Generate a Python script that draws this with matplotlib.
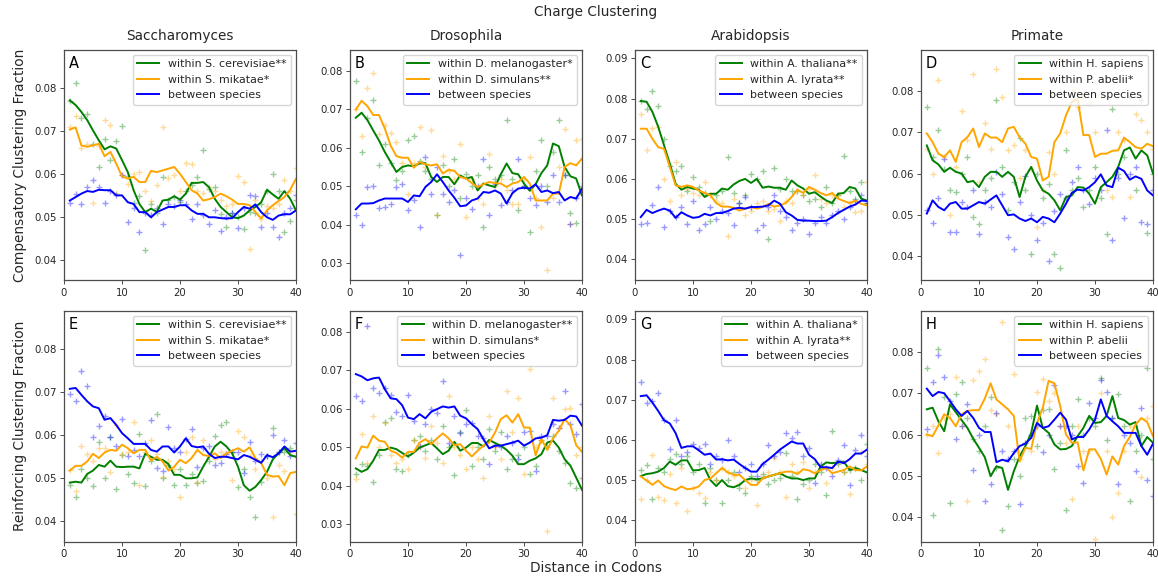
import matplotlib
matplotlib.use("Agg")
import matplotlib.pyplot as plt
import numpy as np

plt.rcParams['font.family'] = ['DejaVu Sans']

# ---------------- data ----------------
distance = list(range(1, 41))
xticks = [0, 10, 20, 30, 40]

col_titles = ["Saccharomyces", "Drosophila", "Arabidopsis", "Primate"]
row_ylabels = ["Compensatory Clustering Fraction", "Reinforcing Clustering Fraction"]
panel_letters = ["A", "B", "C", "D", "E", "F", "G", "H"]

A_labels = ["within S. cerevisiae**", "within S. mikatae*", "between species"]
B_labels = ["within D. melanogaster*", "within D. simulans**", "between species"]
C_labels = ["within A. thaliana**", "within A. lyrata**", "between species"]
D_labels = ["within H. sapiens", "within P. abelii*", "between species"]
E_labels = ["within S. cerevisiae**", "within S. mikatae*", "between species"]
F_labels = ["within D. melanogaster**", "within D. simulans*", "between species"]
G_labels = ["within A. thaliana*", "within A. lyrata**", "between species"]
H_labels = ["within H. sapiens", "within P. abelii", "between species"]

# Panel A
A_green_line = [0.0771,0.0760,0.0744,0.0725,0.0701,0.0678,0.0657,0.0664,0.0659,0.0632,0.0604,0.0562,0.0530,0.0511,0.0519,0.0512,0.0538,0.0540,0.0548,0.0540,0.0554,0.0579,0.0579,0.0581,0.0569,0.0542,0.0523,0.0511,0.0499,0.0497,0.0503,0.0515,0.0523,0.0534,0.0563,0.0552,0.0542,0.0560,0.0542,0.0515]
A_orange_line = [0.0703,0.0708,0.0666,0.0663,0.0666,0.0670,0.0641,0.0651,0.0624,0.0594,0.0589,0.0593,0.0581,0.0581,0.0607,0.0604,0.0608,0.0612,0.0616,0.0600,0.0581,0.0562,0.0554,0.0538,0.0541,0.0546,0.0554,0.0548,0.0540,0.0530,0.0530,0.0527,0.0511,0.0496,0.0515,0.0527,0.0537,0.0546,0.0563,0.0589]
A_blue_line = [0.0538,0.0546,0.0554,0.0560,0.0558,0.0563,0.0562,0.0562,0.0550,0.0550,0.0534,0.0530,0.0511,0.0511,0.0499,0.0511,0.0517,0.0523,0.0523,0.0527,0.0527,0.0515,0.0507,0.0507,0.0499,0.0499,0.0497,0.0496,0.0497,0.0511,0.0523,0.0519,0.0529,0.0511,0.0499,0.0493,0.0503,0.0506,0.0506,0.0515]
A_green_pts = [0.0770,0.0812,0.0729,0.0739,0.0670,0.0617,0.0682,0.0633,0.0676,0.0711,0.0595,0.0532,0.0548,0.0422,0.0530,0.0510,0.0593,0.0540,0.0546,0.0535,0.0560,0.0575,0.0593,0.0655,0.0565,0.0569,0.0507,0.0476,0.0510,0.0500,0.0472,0.0512,0.0510,0.0530,0.0560,0.0599,0.0560,0.0464,0.0491,0.0540]
A_orange_pts = [0.0708,0.0734,0.0660,0.0670,0.0532,0.0665,0.0726,0.0713,0.0555,0.0598,0.0577,0.0600,0.0604,0.0560,0.0538,0.0573,0.0708,0.0590,0.0597,0.0560,0.0625,0.0622,0.0560,0.0555,0.0570,0.0561,0.0540,0.0525,0.0530,0.0595,0.0581,0.0425,0.0540,0.0496,0.0525,0.0520,0.0530,0.0586,0.0560,0.0614]
A_blue_pts = [0.0532,0.0554,0.0529,0.0569,0.0586,0.0569,0.0532,0.0560,0.0550,0.0597,0.0488,0.0520,0.0464,0.0510,0.0505,0.0520,0.0484,0.0530,0.0525,0.0540,0.0530,0.0495,0.0529,0.0505,0.0484,0.0515,0.0468,0.0500,0.0510,0.0475,0.0520,0.0550,0.0548,0.0476,0.0510,0.0476,0.0454,0.0510,0.0520,0.0550]

# Panel B
B_green_line = [0.0678,0.0691,0.0672,0.0645,0.0619,0.0589,0.0563,0.0537,0.0550,0.0554,0.0552,0.0559,0.0560,0.0524,0.0511,0.0524,0.0524,0.0505,0.0528,0.0520,0.0524,0.0489,0.0507,0.0502,0.0498,0.0531,0.0559,0.0534,0.0531,0.0507,0.0488,0.0505,0.0534,0.0554,0.0611,0.0604,0.0550,0.0526,0.0520,0.0476]
B_orange_line = [0.0699,0.0722,0.0708,0.0685,0.0685,0.0650,0.0606,0.0578,0.0574,0.0574,0.0548,0.0563,0.0557,0.0554,0.0557,0.0533,0.0543,0.0540,0.0524,0.0520,0.0508,0.0498,0.0505,0.0511,0.0508,0.0507,0.0498,0.0507,0.0511,0.0524,0.0507,0.0463,0.0463,0.0463,0.0481,0.0481,0.0550,0.0560,0.0554,0.0572]
B_blue_line = [0.0440,0.0455,0.0455,0.0456,0.0463,0.0468,0.0468,0.0468,0.0468,0.0459,0.0476,0.0474,0.0498,0.0511,0.0531,0.0511,0.0489,0.0470,0.0448,0.0450,0.0463,0.0468,0.0485,0.0483,0.0489,0.0481,0.0455,0.0482,0.0494,0.0496,0.0494,0.0505,0.0485,0.0489,0.0482,0.0485,0.0463,0.0472,0.0468,0.0494]
B_green_pts = [0.0774,0.0589,0.0676,0.0724,0.0554,0.0610,0.0560,0.0515,0.0540,0.0621,0.0630,0.0565,0.0540,0.0520,0.0424,0.0555,0.0500,0.0572,0.0470,0.0533,0.0500,0.0530,0.0393,0.0550,0.0520,0.0530,0.0673,0.0520,0.0437,0.0500,0.0381,0.0540,0.0621,0.0500,0.0590,0.0673,0.0530,0.0430,0.0404,0.0480]
B_orange_pts = [0.0700,0.0630,0.0754,0.0795,0.0635,0.0660,0.0638,0.0615,0.0560,0.0480,0.0560,0.0655,0.0550,0.0646,0.0424,0.0578,0.0540,0.0520,0.0609,0.0420,0.0520,0.0470,0.0455,0.0583,0.0500,0.0520,0.0490,0.0455,0.0455,0.0520,0.0575,0.0470,0.0395,0.0283,0.0470,0.0550,0.0650,0.0402,0.0621,0.0624]
B_blue_pts = [0.0424,0.0400,0.0498,0.0501,0.0443,0.0445,0.0453,0.0498,0.0507,0.0437,0.0463,0.0394,0.0576,0.0480,0.0550,0.0480,0.0460,0.0490,0.0320,0.0470,0.0442,0.0500,0.0572,0.0424,0.0505,0.0450,0.0460,0.0490,0.0572,0.0500,0.0470,0.0450,0.0500,0.0460,0.0530,0.0460,0.0530,0.0402,0.0470,0.0500]

# Panel C
C_green_line = [0.0794,0.0792,0.0767,0.0730,0.0684,0.0638,0.0588,0.0573,0.0580,0.0576,0.0573,0.0555,0.0563,0.0563,0.0576,0.0573,0.0586,0.0595,0.0600,0.0590,0.0600,0.0578,0.0581,0.0578,0.0578,0.0573,0.0596,0.0584,0.0576,0.0563,0.0567,0.0556,0.0546,0.0540,0.0563,0.0565,0.0580,0.0576,0.0551,0.0546]
C_orange_line = [0.0725,0.0725,0.0700,0.0679,0.0675,0.0630,0.0584,0.0580,0.0584,0.0580,0.0571,0.0565,0.0559,0.0540,0.0531,0.0531,0.0528,0.0521,0.0526,0.0530,0.0526,0.0530,0.0538,0.0531,0.0534,0.0540,0.0555,0.0573,0.0565,0.0580,0.0573,0.0565,0.0559,0.0565,0.0551,0.0545,0.0540,0.0546,0.0538,0.0534]
C_blue_line = [0.0505,0.0523,0.0515,0.0521,0.0526,0.0521,0.0503,0.0517,0.0509,0.0503,0.0505,0.0513,0.0509,0.0515,0.0515,0.0520,0.0526,0.0528,0.0526,0.0530,0.0530,0.0531,0.0534,0.0546,0.0538,0.0517,0.0509,0.0498,0.0496,0.0496,0.0495,0.0495,0.0496,0.0505,0.0515,0.0523,0.0531,0.0536,0.0546,0.0545]
C_green_pts = [0.0794,0.0773,0.0819,0.0781,0.0700,0.0631,0.0620,0.0631,0.0570,0.0605,0.0580,0.0565,0.0496,0.0560,0.0570,0.0655,0.0565,0.0540,0.0560,0.0611,0.0600,0.0619,0.0451,0.0628,0.0575,0.0600,0.0570,0.0570,0.0560,0.0545,0.0550,0.0530,0.0580,0.0540,0.0560,0.0656,0.0570,0.0550,0.0592,0.0540]
C_orange_pts = [0.0761,0.0671,0.0728,0.0730,0.0600,0.0546,0.0642,0.0559,0.0575,0.0565,0.0560,0.0592,0.0560,0.0545,0.0540,0.0459,0.0550,0.0530,0.0510,0.0520,0.0540,0.0545,0.0520,0.0525,0.0496,0.0545,0.0540,0.0570,0.0560,0.0575,0.0609,0.0550,0.0540,0.0560,0.0560,0.0530,0.0540,0.0517,0.0520,0.0592]
C_blue_pts = [0.0488,0.0490,0.0534,0.0579,0.0480,0.0520,0.0505,0.0530,0.0488,0.0545,0.0473,0.0487,0.0530,0.0500,0.0520,0.0515,0.0484,0.0540,0.0555,0.0530,0.0472,0.0485,0.0530,0.0560,0.0520,0.0505,0.0472,0.0490,0.0500,0.0463,0.0490,0.0505,0.0490,0.0510,0.0520,0.0500,0.0530,0.0545,0.0560,0.0540]

# Panel D
D_green_line = [0.0668,0.0632,0.0622,0.0604,0.0614,0.0604,0.0600,0.0579,0.0582,0.0567,0.0592,0.0604,0.0604,0.0592,0.0604,0.0592,0.0543,0.0592,0.0616,0.0583,0.0559,0.0551,0.0535,0.0511,0.0543,0.0547,0.0567,0.0566,0.0551,0.0527,0.0567,0.0579,0.0592,0.0616,0.0656,0.0663,0.0636,0.0656,0.0644,0.0600]
D_orange_line = [0.0697,0.0676,0.0648,0.0640,0.0656,0.0628,0.0676,0.0688,0.0709,0.0664,0.0697,0.0687,0.0687,0.0676,0.0709,0.0713,0.0688,0.0672,0.0640,0.0636,0.0583,0.0592,0.0676,0.0697,0.0741,0.0773,0.0781,0.0693,0.0693,0.0640,0.0648,0.0648,0.0655,0.0656,0.0687,0.0676,0.0664,0.0660,0.0672,0.0666]
D_blue_line = [0.0503,0.0535,0.0519,0.0511,0.0527,0.0531,0.0515,0.0515,0.0523,0.0531,0.0527,0.0537,0.0547,0.0523,0.0499,0.0501,0.0491,0.0485,0.0491,0.0482,0.0495,0.0491,0.0482,0.0503,0.0527,0.0553,0.0561,0.0559,0.0567,0.0579,0.0598,0.0571,0.0567,0.0614,0.0606,0.0585,0.0593,0.0587,0.0559,0.0547]
D_green_pts = [0.0761,0.0640,0.0705,0.0610,0.0560,0.0555,0.0600,0.0640,0.0495,0.0478,0.0560,0.0590,0.0779,0.0616,0.0511,0.0580,0.0687,0.0560,0.0404,0.0600,0.0540,0.0575,0.0404,0.0372,0.0656,0.0560,0.0590,0.0520,0.0560,0.0616,0.0540,0.0454,0.0757,0.0600,0.0640,0.0785,0.0560,0.0777,0.0456,0.0600]
D_orange_pts = [0.0660,0.0598,0.0826,0.0640,0.0500,0.0616,0.0751,0.0680,0.0842,0.0580,0.0723,0.0660,0.0854,0.0785,0.0658,0.0670,0.0590,0.0656,0.0610,0.0470,0.0560,0.0652,0.0600,0.0878,0.0700,0.0800,0.0760,0.0790,0.0770,0.0700,0.0790,0.0560,0.0543,0.0700,0.0680,0.0543,0.0745,0.0729,0.0700,0.0660]
D_blue_pts = [0.0511,0.0480,0.0540,0.0636,0.0458,0.0458,0.0530,0.0520,0.0560,0.0453,0.0530,0.0520,0.0604,0.0550,0.0446,0.0418,0.0530,0.0593,0.0500,0.0440,0.0480,0.0388,0.0510,0.0551,0.0540,0.0580,0.0616,0.0560,0.0527,0.0590,0.0560,0.0706,0.0440,0.0590,0.0493,0.0600,0.0616,0.0482,0.0478,0.0560]

# Panel E
E_green_line = [0.0489,0.0491,0.0489,0.0509,0.0517,0.0530,0.0526,0.0540,0.0526,0.0525,0.0526,0.0526,0.0522,0.0556,0.0549,0.0542,0.0542,0.0532,0.0507,0.0507,0.0499,0.0499,0.0501,0.0526,0.0549,0.0573,0.0584,0.0573,0.0557,0.0526,0.0483,0.0470,0.0479,0.0495,0.0514,0.0543,0.0557,0.0569,0.0553,0.0549]
E_orange_line = [0.0517,0.0528,0.0528,0.0538,0.0556,0.0546,0.0559,0.0565,0.0563,0.0577,0.0569,0.0557,0.0565,0.0565,0.0540,0.0549,0.0538,0.0517,0.0526,0.0542,0.0534,0.0546,0.0565,0.0553,0.0551,0.0557,0.0546,0.0557,0.0563,0.0569,0.0561,0.0571,0.0546,0.0534,0.0507,0.0503,0.0504,0.0483,0.0511,0.0514]
E_blue_line = [0.0707,0.0709,0.0693,0.0678,0.0666,0.0662,0.0635,0.0639,0.0623,0.0604,0.0592,0.0579,0.0579,0.0579,0.0565,0.0561,0.0573,0.0573,0.0559,0.0573,0.0592,0.0574,0.0571,0.0573,0.0556,0.0546,0.0549,0.0549,0.0546,0.0543,0.0553,0.0549,0.0542,0.0535,0.0553,0.0548,0.0557,0.0573,0.0561,0.0563]
E_green_pts = [0.0483,0.0456,0.0520,0.0500,0.0480,0.0584,0.0500,0.0596,0.0473,0.0553,0.0509,0.0489,0.0602,0.0480,0.0540,0.0649,0.0500,0.0530,0.0483,0.0520,0.0483,0.0509,0.0489,0.0492,0.0540,0.0598,0.0623,0.0629,0.0560,0.0478,0.0520,0.0456,0.0408,0.0490,0.0550,0.0616,0.0560,0.0560,0.0570,0.0550]
E_orange_pts = [0.0518,0.0470,0.0573,0.0555,0.0540,0.0570,0.0570,0.0514,0.0623,0.0555,0.0560,0.0631,0.0483,0.0560,0.0588,0.0555,0.0503,0.0540,0.0520,0.0456,0.0560,0.0596,0.0490,0.0588,0.0550,0.0545,0.0560,0.0555,0.0495,0.0610,0.0596,0.0550,0.0520,0.0540,0.0500,0.0408,0.0530,0.0515,0.0560,0.0417]
E_blue_pts = [0.0696,0.0678,0.0748,0.0714,0.0594,0.0620,0.0644,0.0595,0.0573,0.0636,0.0550,0.0565,0.0550,0.0580,0.0635,0.0522,0.0515,0.0618,0.0570,0.0560,0.0590,0.0613,0.0525,0.0570,0.0575,0.0530,0.0535,0.0555,0.0560,0.0560,0.0511,0.0584,0.0540,0.0555,0.0550,0.0600,0.0560,0.0588,0.0550,0.0580]

# Panel F
F_green_line = [0.0445,0.0436,0.0443,0.0465,0.0493,0.0493,0.0499,0.0495,0.0485,0.0476,0.0486,0.0499,0.0505,0.0511,0.0497,0.0482,0.0491,0.0514,0.0491,0.0499,0.0511,0.0511,0.0502,0.0519,0.0511,0.0504,0.0493,0.0478,0.0456,0.0456,0.0465,0.0471,0.0482,0.0512,0.0517,0.0499,0.0469,0.0452,0.0421,0.0389]
F_orange_line = [0.0471,0.0502,0.0499,0.0530,0.0517,0.0514,0.0491,0.0485,0.0473,0.0488,0.0488,0.0512,0.0521,0.0508,0.0523,0.0536,0.0523,0.0505,0.0508,0.0491,0.0476,0.0491,0.0504,0.0512,0.0538,0.0573,0.0583,0.0564,0.0586,0.0551,0.0551,0.0479,0.0521,0.0493,0.0523,0.0543,0.0573,0.0557,0.0505,0.0488]
F_blue_line = [0.0690,0.0684,0.0674,0.0679,0.0681,0.0651,0.0627,0.0625,0.0609,0.0577,0.0573,0.0586,0.0575,0.0592,0.0599,0.0606,0.0603,0.0606,0.0582,0.0575,0.0560,0.0547,0.0521,0.0497,0.0504,0.0504,0.0508,0.0512,0.0517,0.0504,0.0512,0.0523,0.0525,0.0531,0.0571,0.0569,0.0571,0.0582,0.0580,0.0556]
F_green_pts = [0.0430,0.0456,0.0450,0.0410,0.0479,0.0566,0.0575,0.0443,0.0439,0.0480,0.0519,0.0530,0.0490,0.0520,0.0470,0.0556,0.0500,0.0427,0.0540,0.0597,0.0452,0.0500,0.0470,0.0547,0.0490,0.0540,0.0443,0.0470,0.0480,0.0500,0.0430,0.0450,0.0520,0.0500,0.0530,0.0490,0.0460,0.0408,0.0395,0.0420]
F_orange_pts = [0.0417,0.0534,0.0460,0.0582,0.0500,0.0564,0.0480,0.0460,0.0470,0.0443,0.0520,0.0500,0.0473,0.0556,0.0510,0.0460,0.0634,0.0500,0.0480,0.0443,0.0500,0.0470,0.0421,0.0582,0.0500,0.0469,0.0647,0.0540,0.0629,0.0430,0.0703,0.0500,0.0520,0.0283,0.0629,0.0550,0.0600,0.0603,0.0480,0.0500]
F_blue_pts = [0.0632,0.0621,0.0814,0.0655,0.0642,0.0655,0.0635,0.0592,0.0580,0.0635,0.0569,0.0504,0.0560,0.0600,0.0590,0.0673,0.0511,0.0580,0.0538,0.0560,0.0563,0.0530,0.0525,0.0456,0.0505,0.0500,0.0530,0.0510,0.0469,0.0540,0.0543,0.0439,0.0530,0.0530,0.0560,0.0550,0.0647,0.0560,0.0535,0.0612]

# Panel G
G_green_line = [0.0510,0.0515,0.0517,0.0521,0.0530,0.0546,0.0538,0.0549,0.0549,0.0524,0.0525,0.0530,0.0500,0.0485,0.0500,0.0485,0.0482,0.0488,0.0500,0.0504,0.0502,0.0504,0.0509,0.0513,0.0517,0.0509,0.0504,0.0504,0.0500,0.0504,0.0504,0.0534,0.0544,0.0542,0.0544,0.0546,0.0525,0.0530,0.0525,0.0519]
G_orange_line = [0.0509,0.0499,0.0488,0.0499,0.0485,0.0479,0.0475,0.0484,0.0477,0.0479,0.0484,0.0500,0.0504,0.0517,0.0530,0.0519,0.0513,0.0513,0.0500,0.0488,0.0488,0.0504,0.0509,0.0513,0.0517,0.0521,0.0521,0.0515,0.0527,0.0524,0.0517,0.0525,0.0530,0.0517,0.0521,0.0525,0.0534,0.0525,0.0524,0.0534]
G_blue_line = [0.0709,0.0711,0.0693,0.0672,0.0649,0.0641,0.0617,0.0580,0.0584,0.0584,0.0574,0.0563,0.0566,0.0551,0.0552,0.0549,0.0551,0.0540,0.0530,0.0521,0.0521,0.0540,0.0551,0.0563,0.0576,0.0586,0.0596,0.0591,0.0591,0.0563,0.0552,0.0532,0.0532,0.0530,0.0546,0.0542,0.0552,0.0566,0.0566,0.0576]
G_green_pts = [0.0525,0.0538,0.0454,0.0530,0.0520,0.0552,0.0566,0.0540,0.0560,0.0520,0.0540,0.0442,0.0530,0.0500,0.0442,0.0500,0.0520,0.0480,0.0469,0.0510,0.0500,0.0515,0.0490,0.0500,0.0505,0.0567,0.0510,0.0452,0.0490,0.0500,0.0540,0.0520,0.0463,0.0622,0.0540,0.0520,0.0525,0.0530,0.0500,0.0590]
G_orange_pts = [0.0452,0.0500,0.0563,0.0459,0.0450,0.0515,0.0442,0.0530,0.0423,0.0480,0.0467,0.0455,0.0520,0.0500,0.0530,0.0520,0.0510,0.0490,0.0480,0.0500,0.0438,0.0510,0.0520,0.0555,0.0520,0.0459,0.0540,0.0520,0.0545,0.0480,0.0520,0.0530,0.0492,0.0530,0.0545,0.0520,0.0465,0.0530,0.0571,0.0540]
G_blue_pts = [0.0743,0.0691,0.0697,0.0718,0.0650,0.0577,0.0649,0.0560,0.0570,0.0591,0.0580,0.0590,0.0540,0.0560,0.0550,0.0601,0.0560,0.0520,0.0530,0.0540,0.0510,0.0540,0.0588,0.0560,0.0570,0.0617,0.0605,0.0619,0.0560,0.0580,0.0492,0.0540,0.0530,0.0510,0.0550,0.0588,0.0488,0.0575,0.0611,0.0560]

# Panel H
H_green_line = [0.0661,0.0665,0.0632,0.0608,0.0673,0.0654,0.0635,0.0616,0.0590,0.0568,0.0545,0.0499,0.0523,0.0519,0.0466,0.0511,0.0547,0.0572,0.0604,0.0670,0.0616,0.0604,0.0576,0.0564,0.0565,0.0572,0.0596,0.0616,0.0645,0.0628,0.0630,0.0645,0.0693,0.0640,0.0635,0.0624,0.0630,0.0572,0.0594,0.0580]
H_orange_line = [0.0600,0.0596,0.0622,0.0649,0.0640,0.0620,0.0649,0.0657,0.0659,0.0659,0.0687,0.0724,0.0685,0.0673,0.0661,0.0645,0.0535,0.0568,0.0565,0.0628,0.0665,0.0730,0.0724,0.0669,0.0600,0.0580,0.0581,0.0513,0.0564,0.0564,0.0541,0.0503,0.0547,0.0527,0.0572,0.0594,0.0624,0.0640,0.0630,0.0596]
H_blue_line = [0.0711,0.0693,0.0703,0.0700,0.0681,0.0661,0.0645,0.0657,0.0640,0.0616,0.0606,0.0606,0.0533,0.0539,0.0535,0.0555,0.0572,0.0578,0.0592,0.0628,0.0616,0.0620,0.0636,0.0653,0.0636,0.0588,0.0594,0.0594,0.0612,0.0636,0.0685,0.0645,0.0632,0.0620,0.0604,0.0604,0.0604,0.0572,0.0551,0.0578]
H_green_pts = [0.0760,0.0406,0.0808,0.0690,0.0434,0.0697,0.0727,0.0640,0.0589,0.0560,0.0620,0.0691,0.0520,0.0369,0.0428,0.0540,0.0500,0.0640,0.0645,0.0573,0.0660,0.0662,0.0517,0.0580,0.0418,0.0620,0.0685,0.0600,0.0640,0.0620,0.0738,0.0586,0.0640,0.0697,0.0620,0.0438,0.0560,0.0600,0.0760,0.0540]
H_orange_pts = [0.0600,0.0620,0.0555,0.0640,0.0650,0.0740,0.0620,0.0438,0.0732,0.0754,0.0784,0.0660,0.0650,0.0873,0.0620,0.0746,0.0540,0.0580,0.0560,0.0703,0.0734,0.0680,0.0700,0.0620,0.0580,0.0445,0.0620,0.0560,0.0560,0.0347,0.0700,0.0560,0.0400,0.0458,0.0560,0.0620,0.0802,0.0497,0.0640,0.0669]
H_blue_pts = [0.0614,0.0726,0.0792,0.0740,0.0680,0.0589,0.0620,0.0675,0.0513,0.0600,0.0440,0.0479,0.0653,0.0560,0.0540,0.0560,0.0432,0.0580,0.0600,0.0620,0.0557,0.0600,0.0719,0.0620,0.0620,0.0600,0.0523,0.0483,0.0677,0.0640,0.0732,0.0703,0.0640,0.0479,0.0600,0.0580,0.0511,0.0665,0.0491,0.0450]

col_ylims = [(0.0352, 0.0888), (0.0255, 0.0854), (0.0347, 0.0921), (0.0341, 0.0899)]
col_yticks = [[0.04, 0.05, 0.06, 0.07, 0.08],
              [0.03, 0.04, 0.05, 0.06, 0.07, 0.08],
              [0.04, 0.05, 0.06, 0.07, 0.08, 0.09],
              [0.04, 0.05, 0.06, 0.07, 0.08]]

panels = [
    (A_green_line, A_orange_line, A_blue_line, A_green_pts, A_orange_pts, A_blue_pts, A_labels),
    (B_green_line, B_orange_line, B_blue_line, B_green_pts, B_orange_pts, B_blue_pts, B_labels),
    (C_green_line, C_orange_line, C_blue_line, C_green_pts, C_orange_pts, C_blue_pts, C_labels),
    (D_green_line, D_orange_line, D_blue_line, D_green_pts, D_orange_pts, D_blue_pts, D_labels),
    (E_green_line, E_orange_line, E_blue_line, E_green_pts, E_orange_pts, E_blue_pts, E_labels),
    (F_green_line, F_orange_line, F_blue_line, F_green_pts, F_orange_pts, F_blue_pts, F_labels),
    (G_green_line, G_orange_line, G_blue_line, G_green_pts, G_orange_pts, G_blue_pts, G_labels),
    (H_green_line, H_orange_line, H_blue_line, H_green_pts, H_orange_pts, H_blue_pts, H_labels),
]

colors = ["green", "orange", "blue"]

# ---------------- figure ----------------
W, H = 1158, 579
fig = plt.figure(figsize=(W / 100, H / 100), dpi=100)

col_left_px = [64, 350, 635, 921]
ax_w_px = 232
row_top_px = [50, 311]
ax_h_px = 230.5

text_color = "#262626"
spine_color = "#4d4d4d"

for i, (gl, ol, bl, gp, op, bp, labels) in enumerate(panels):
    r, c = divmod(i, 4)
    left = col_left_px[c] / W
    bottom = 1 - (row_top_px[r] + ax_h_px) / H
    ax = fig.add_axes([left, bottom, ax_w_px / W, ax_h_px / H])

    for pts, col in zip((gp, op, bp), colors):
        ax.scatter(distance, pts, marker="+", s=22, color=col, alpha=0.4,
                   linewidths=1.0, zorder=1)
    handles = []
    for line, col, lab in zip((gl, ol, bl), colors, labels):
        h, = ax.plot(distance, line, color=col, lw=1.4, label=lab, zorder=2)
        handles.append(h)

    ax.set_xlim(0, 40)
    ax.set_xticks(xticks)
    ax.set_ylim(*col_ylims[c])
    ax.set_yticks(col_yticks[c])
    ax.yaxis.set_major_formatter(matplotlib.ticker.FormatStrFormatter('%.2f'))
    ax.tick_params(labelsize=7.3, length=2.8, width=0.7, colors=spine_color,
                   labelcolor=text_color, pad=2.5)
    for sp in ax.spines.values():
        sp.set_color(spine_color)
        sp.set_linewidth(0.9)

    leg = ax.legend(handles=handles, loc="upper right", fontsize=7.9,
                    framealpha=0.8, edgecolor="0.8", fancybox=True,
                    borderaxespad=0.45)
    for t in leg.get_texts():
        t.set_color(text_color)

    ax.text(0.022, 0.975, panel_letters[i], transform=ax.transAxes,
            fontsize=10.5, va="top", ha="left", color="black")

    if r == 0:
        ax.set_title(col_titles[c], fontsize=9.8, color=text_color, pad=7)
    if c == 0:
        ax.set_ylabel(row_ylabels[r], fontsize=9.8, color=text_color, labelpad=5)

fig.text(596 / W, 1 - 12 / H, "Charge Clustering", ha="center", va="center",
         fontsize=9.8, color=text_color)
fig.text(596 / W, 1 - 568 / H, "Distance in Codons", ha="center", va="center",
         fontsize=9.8, color=text_color)

fig.savefig("out.png", dpi=100)
